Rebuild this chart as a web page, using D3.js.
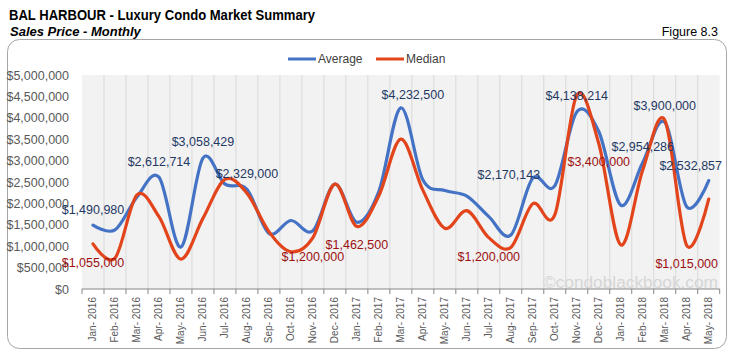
<!DOCTYPE html>
<html>
<head>
<meta charset="utf-8">
<script src="https://cdn.jsdelivr.net/npm/d3@7"></script>
<style>
  body { margin: 0; background: #fff; }
  svg { display: block; font-family: "Liberation Sans", Arial, sans-serif; }
</style>
</head>
<body>
<svg id="chart" width="731" height="358"></svg>
<script>
// chart data
var months = ["Jan-2016","Feb-2016","Mar-2016","Apr-2016","May-2016","Jun-2016","Jul-2016","Aug-2016",
  "Sep-2016","Oct-2016","Nov-2016","Dec-2016","Jan-2017","Feb-2017","Mar-2017","Apr-2017","May-2017",
  "Jun-2017","Jul-2017","Aug-2017","Sep-2017","Oct-2017","Nov-2017","Dec-2017","Jan-2018","Feb-2018",
  "Mar-2018","Apr-2018","May-2018"];
var average = [1490980, 1380000, 2150000, 2612714, 980000, 3058429, 2450000, 2329000,
  1300000, 1600000, 1360000, 2450000, 1560000, 2280000, 4232500, 2550000, 2300000,
  2170143, 1690000, 1260000, 2590000, 2410000, 4138214, 3680000, 1960000, 2954286,
  3900000, 1920000, 2532857];
var median = [1055000, 720000, 2200000, 1690000, 700000, 1650000, 2560000, 2240000,
  1340000, 870000, 1200000, 2450000, 1462500, 2180000, 3500000, 2310000, 1420000,
  1830000, 1200000, 970000, 1990000, 1730000, 4530000, 3400000, 1030000, 2780000,
  3950000, 1015000, 2100000];
var yTicks = [0, 500000, 1000000, 1500000, 2000000, 2500000, 3000000, 3500000, 4000000, 4500000, 5000000];
// which points carry a value label
var averageLabels = ["Jan-2016","Apr-2016","Jun-2016","Aug-2016","Mar-2017","Jun-2017","Nov-2017","Feb-2018","Mar-2018","May-2018"];
var medianLabels = ["Jan-2016","Nov-2016","Jan-2017","Jul-2017","Dec-2017","Apr-2018"];

var svg = d3.select("#chart");
var plotL = 82, plotR = 719.7, plotT = 75, plotB = 289;

// label nudges (pixels from the point)
var avgNudge = {"Mar-2017": [12, -13], "Jun-2017": [42, -21], "May-2018": [-18, -15]};
var medNudge = {};

var x = d3.scaleBand().domain(months).range([plotL, plotR]);
var y = d3.scaleLinear().domain([0, 5000000]).range([plotB, plotT]);
var fmt = d3.format("$,");

// outer frame
svg.append("rect")
  .attr("x", 7.5).attr("y", 39.5).attr("width", 719).attr("height", 309)
  .attr("rx", 12).attr("fill", "#fff").attr("stroke", "#a6a6a6");

// titles
svg.append("text").attr("x", 9).attr("y", 20)
  .attr("textLength", 306).attr("lengthAdjust", "spacingAndGlyphs")
  .style("font-size", "14.5px").style("font-weight", "bold").attr("fill", "#000")
  .text("BAL HARBOUR - Luxury Condo Market Summary");
svg.append("text").attr("x", 10).attr("y", 36)
  .style("font-size", "13px").style("font-weight", "bold").style("font-style", "italic").attr("fill", "#000")
  .text("Sales Price - Monthly");
svg.append("text").attr("x", 718).attr("y", 36).attr("text-anchor", "end")
  .style("font-size", "12.5px").attr("fill", "#000")
  .text("Figure 8.3");

// plot background and vertical grid
svg.append("rect").attr("x", plotL).attr("y", plotT)
  .attr("width", plotR - plotL).attr("height", plotB - plotT).attr("fill", "#f2f2f2");

var bounds = months.map(function(m) { return x(m); }).concat([plotR]);
svg.append("g").selectAll("line")
  .data(bounds.slice(1, -1))
  .enter().append("line")
    .attr("x1", function(d) { return d; }).attr("x2", function(d) { return d; })
    .attr("y1", plotT).attr("y2", plotB)
    .attr("stroke", "#d9d9d9").attr("stroke-width", 1);

// y axis
var yAxis = svg.append("g")
  .attr("transform", "translate(" + plotL + ",0)")
  .call(d3.axisLeft(y).tickValues(yTicks).tickFormat(fmt).tickSize(0).tickPadding(13));
yAxis.select(".domain").remove();
yAxis.selectAll("text").style("font-size", "12.5px").attr("fill", "#595959")
  .style("font-family", "'Liberation Sans', Arial, sans-serif");

// x axis
svg.append("line").attr("x1", plotL).attr("x2", plotR).attr("y1", plotB).attr("y2", plotB)
  .attr("stroke", "#868686");
svg.append("g").selectAll("line")
  .data(bounds)
  .enter().append("line")
    .attr("x1", function(d) { return d; }).attr("x2", function(d) { return d; })
    .attr("y1", plotB).attr("y2", plotB + 5)
    .attr("stroke", "#868686");
svg.append("g").selectAll("text")
  .data(months)
  .enter().append("text")
    .attr("transform", function(d) {
      return "translate(" + (x(d) + x.bandwidth() / 2 + 3.5) + "," + 297 + ") rotate(-90)";
    })
    .attr("text-anchor", "end")
    .style("font-size", "10px").attr("fill", "#595959")
    .text(function(d) { return d.replace("-", "- "); });

// watermark
svg.append("text").attr("x", 718).attr("y", 288).attr("text-anchor", "end")
  .style("font-size", "17.3px").attr("fill", "#d6d6d6")
  .text("\u00a9condoblackbook.com");

// lines
var line = d3.line()
  .x(function(d, i) { return x(months[i]) + x.bandwidth() / 2; })
  .y(function(d) { return y(d); })
  .curve(d3.curveCatmullRom.alpha(0));

svg.append("path").datum(average)
  .attr("d", line).attr("fill", "none")
  .attr("stroke", "#4472c4").attr("stroke-width", 3.2).attr("stroke-linecap", "round");
svg.append("path").datum(median)
  .attr("d", line).attr("fill", "none")
  .attr("stroke", "#e2441b").attr("stroke-width", 3.2).attr("stroke-linecap", "round");

// data labels
function addLabels(names, values, color, dyDefault, nudge) {
  svg.append("g").selectAll("text")
    .data(names)
    .enter().append("text")
      .attr("x", function(d) {
        var n = nudge[d] ? nudge[d][0] : 0;
        return x(d) + x.bandwidth() / 2 + n;
      })
      .attr("y", function(d) {
        var n = nudge[d] ? nudge[d][1] : dyDefault;
        return y(values[months.indexOf(d)]) + n;
      })
      .attr("dy", "0.35em")
      .attr("text-anchor", "middle")
      .style("font-size", "12.5px").attr("fill", color)
      .text(function(d) { return fmt(values[months.indexOf(d)]); });
}
addLabels(averageLabels, average, "#1f3864", -16, avgNudge);
addLabels(medianLabels, median, "#9c1010", 18.5, medNudge);

// legend
var legend = [["Average", "#4472c4", 288], ["Median", "#e2441b", 376]];
legend.forEach(function(l) {
  svg.append("line").attr("x1", l[2]).attr("x2", l[2] + 28).attr("y1", 59).attr("y2", 59)
    .attr("stroke", l[1]).attr("stroke-width", 3);
  svg.append("text").attr("x", l[2] + 30).attr("y", 59).attr("dy", "0.35em")
    .style("font-size", "12px").attr("fill", "#404040").text(l[0]);
});
</script>
</body>
</html>
